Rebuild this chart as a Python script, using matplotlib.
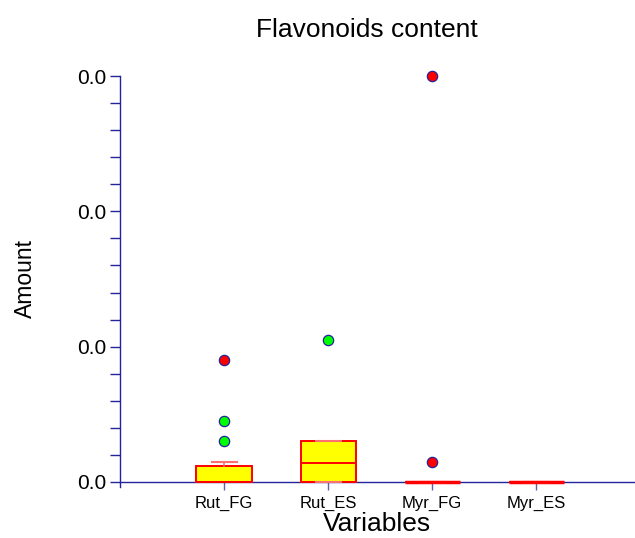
import matplotlib
matplotlib.use("Agg")
import matplotlib.pyplot as plt
from matplotlib.ticker import MultipleLocator, FormatStrFormatter

plt.rcParams["font.family"] = ["Liberation Sans", "DejaVu Sans"]

# box statistics per variable
variables = ["Rut_FG", "Rut_ES", "Myr_FG", "Myr_ES"]
q1 = [0.0, 0.0, 0.0, 0.0]
medians = [0.0, 0.0014, 0.0, 0.0]
q3 = [0.0012, 0.0030, 0.0, 0.0]
whisk_lo = [0.0, 0.0, 0.0, 0.0]
whisk_hi = [0.0015, 0.0030, 0.0, 0.0]

# outliers: mild (green) and far (red)
mild_x = [1, 1, 2]
mild_y = [0.0030, 0.0045, 0.0105]
far_x = [1, 3, 3]
far_y = [0.0090, 0.0015, 0.0300]

navy = "#23239a"
y_top = 0.03
y_pad = 0.00037

fig = plt.figure(figsize=(6.35, 5.38), dpi=100)
ax = fig.add_axes([120 / 635, 51 / 538, 515 / 635, 411 / 538])

stats = []
for i, name in enumerate(variables):
    stats.append(dict(label=name, q1=q1[i], med=medians[i], q3=q3[i],
                      whislo=whisk_lo[i], whishi=whisk_hi[i], fliers=[]))

bp = ax.bxp(stats, positions=range(1, 5), widths=0.53, patch_artist=True,
            showfliers=False,
            boxprops=dict(facecolor="#ffff00", edgecolor="#ff0000",
                          linewidth=1.4),
            medianprops=dict(color="#ff0000", linewidth=1.4),
            whiskerprops=dict(color="#ff7070", linewidth=1.2),
            capprops=dict(color="#ff7070", linewidth=1.5),
            capwidths=0.24, zorder=3)

# collapsed boxes show up as a thick red bar on the baseline
for box, lo, hi in zip(bp["boxes"], q1, q3):
    if hi == lo:
        box.set_linewidth(2.5)

ax.scatter(mild_x, mild_y, s=55, color="#00ff00", edgecolors=navy,
           linewidths=0.9, zorder=4, clip_on=False)
ax.scatter(far_x, far_y, s=55, color="#ff0000", edgecolors=navy,
           linewidths=0.9, zorder=4, clip_on=False)

ax.set_xlim(0, 4.95)
ax.set_ylim(-y_pad, y_top)

for side in ["top", "right"]:
    ax.spines[side].set_visible(False)
ax.spines["bottom"].set_position(("data", 0))
for side in ["left", "bottom"]:
    ax.spines[side].set_color(navy)
    ax.spines[side].set_linewidth(1.0)
ax.spines["bottom"].set_zorder(2)

ax.yaxis.set_major_locator(MultipleLocator(0.01))
ax.yaxis.set_minor_locator(MultipleLocator(0.002))
ax.yaxis.set_major_formatter(FormatStrFormatter("%.1f"))
ax.tick_params(axis="y", which="both", direction="out", length=7,
               width=1.0, color=navy, labelsize=15, pad=3)
ax.set_xticks(range(1, 5))
ax.set_xticklabels(variables)
ax.tick_params(axis="x", direction="out", length=6, width=1.0,
               color="#6060b0", labelsize=12, pad=4)

fig.text(367 / 635, 1 - 30 / 538, "Flavonoids content", ha="center",
         va="center", fontsize=19)
fig.text(25 / 635, 1 - 279 / 538, "Amount", ha="center", va="center",
         rotation=90, fontsize=16.5)
fig.text(377 / 635, 1 - 524 / 538, "Variables", ha="center", va="center",
         fontsize=19)

fig.savefig("out.png", dpi=100)
